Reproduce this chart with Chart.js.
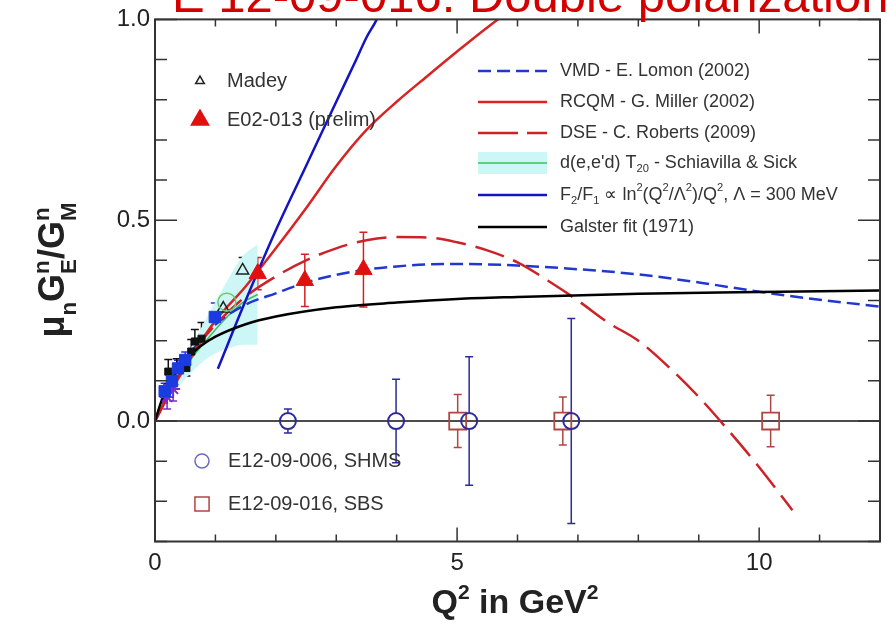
<!DOCTYPE html>
<html lang="en">
<head>
<meta charset="UTF-8" />
<title>E 12-09-016: Double polarization</title>
<script src="https://cdn.jsdelivr.net/npm/chart.js"></script>
<style>
  html, body { margin: 0; padding: 0; background: #fff; }
</style>
</head>
<body>
<canvas id="ratioChart" width="887" height="627"></canvas>
<script>
// ---- theory curves: Q^2 (GeV^2) and mu_n G_E^n / G_M^n ----
const galsterQ2 = [0, 0.1, 0.2, 0.3, 0.5, 0.75, 1, 1.5, 2, 3, 4, 5, 6, 8, 10, 12];
const galsterRatio = [0, 0.047, 0.083, 0.110, 0.151, 0.186, 0.210, 0.241, 0.260, 0.283, 0.295, 0.304, 0.309, 0.317, 0.321, 0.325];

const vmdQ2 = [0, 0.25, 0.5, 0.75, 1, 1.5, 2, 2.5, 3, 3.5, 4, 4.5, 5, 5.5, 6, 7, 8, 9, 10, 11, 12];
const vmdRatio = [0, 0.08, 0.15, 0.2, 0.24, 0.29, 0.318, 0.345, 0.364, 0.377, 0.385, 0.39, 0.391, 0.39, 0.387, 0.378, 0.365, 0.345, 0.322, 0.302, 0.285];

const rcqmQ2 = [0, 0.25, 0.5, 0.75, 1, 1.5, 2, 2.5, 3, 3.5, 4, 4.5, 5, 5.5, 6, 6.5];
const rcqmRatio = [0, 0.07, 0.135, 0.195, 0.25, 0.335, 0.43, 0.53, 0.635, 0.725, 0.795, 0.858, 0.92, 0.98, 1.035, 1.085];

const dseQ2 = [0, 0.25, 0.5, 0.75, 1, 1.5, 2, 2.5, 3, 3.5, 4, 4.5, 5, 5.5, 6, 6.5, 7, 7.5, 8, 8.5, 9, 9.5, 10, 10.55];
const dseRatio = [0, 0.075, 0.14, 0.195, 0.24, 0.31, 0.36, 0.4, 0.43, 0.45, 0.458, 0.457, 0.445, 0.425, 0.395, 0.35, 0.30, 0.245, 0.2, 0.135, 0.06, -0.025, -0.115, -0.222];

const pqcdQ2 = [1.04, 1.5, 2, 2.5, 3, 3.3, 3.5, 3.67, 3.75];
const pqcdRatio = [0.13, 0.3, 0.475, 0.635, 0.795, 0.89, 0.955, 1.0, 1.03];

const t20Q2 = [0, 0.3, 0.6, 0.9, 1.2, 1.45, 1.7];
const t20Low = [0, 0.07, 0.12, 0.16, 0.18, 0.19, 0.19];
const t20High = [0, 0.1, 0.185, 0.27, 0.35, 0.41, 0.44];
const t20Mid = [0, 0.085, 0.155, 0.21, 0.26, 0.295, 0.315];

// ---- measured points ----
const madeyQ2 = [1.13, 1.45];
const madeyRatio = [0.28, 0.375];
const madeyErr = [0.03, 0.032];

const e02Q2 = [1.7, 2.48, 3.45];
const e02Ratio = [0.367, 0.35, 0.377];
const e02Err = [0.04, 0.065, 0.093];

const lowBlueQ2 = [0.16, 0.28, 0.38, 0.5, 0.99];
const lowBlueRatio = [0.074, 0.099, 0.131, 0.152, 0.259];
const lowBlueErr = [0.02, 0.02, 0.02, 0.02, 0.035];

const lowBlackQ2 = [0.22, 0.36, 0.52, 0.6, 0.66, 0.77];
const lowBlackRatio = [0.123, 0.13, 0.132, 0.173, 0.198, 0.205];
const lowBlackErr = [0.03, 0.025, 0.02, 0.03, 0.03, 0.04];

const lowStarQ2 = [0.2, 0.3];
const lowStarRatio = [0.06, 0.08];
const lowStarErr = [0.03, 0.03];

const ringQ2 = [1.19];
const ringRatio = [0.296];

// ---- projected points (plotted at zero) ----
const shmsQ2 = [2.2, 3.99, 5.2, 6.89];
const shmsRatio = [0, 0, 0, 0];
const shmsErr = [0.03, 0.104, 0.16, 0.255];

const sbsQ2 = [5.01, 6.75, 10.19];
const sbsRatio = [0, 0, 0];
const sbsErr = [0.066, 0.06, 0.064];

// ---- axes ----
const xMin = 0, xMax = 12, xStep = 1;
const yMin = -0.3, yMax = 1.0, yStep = 0.1;
const xLabelValues = [0, 5, 10];
const xLabelTexts = ["0", "5", "10"];
const yLabelValues = [0, 0.5, 1.0];
const yLabelTexts = ["0.0", "0.5", "1.0"];

const titleText = "E 12-09-016: Double polarization";
const xTitle = "Q^{2} in GeV^{2}";
const yTitle = "μ_{n}G_{E}^{n}/G_{M}^{n}";

const FONT = '"Liberation Sans", Arial, sans-serif';

function pts(xs, ys) {
  return xs.map((x, i) => ({ x: x, y: ys[i] }));
}

function findLabel(values, texts, v) {
  for (let i = 0; i < values.length; i++) {
    if (Math.abs(values[i] - v) < 1e-6) return texts[i];
  }
  return "";
}

// split "a_{b}^{c}" into plain / sub / sup pieces
function parseRich(str) {
  const out = [];
  const re = /([_^])\{([^}]*)\}/g;
  let last = 0, m;
  while ((m = re.exec(str)) !== null) {
    if (m.index > last) out.push({ text: str.slice(last, m.index), mode: "" });
    out.push({ text: m[2], mode: m[1] === "_" ? "sub" : "sup" });
    last = re.lastIndex;
  }
  if (last < str.length) out.push({ text: str.slice(last), mode: "" });
  return out;
}

function richText(ctx, str, x, y, size, weight, draw) {
  const segs = parseRich(str);
  let cx = x;
  let prev = null;
  for (const s of segs) {
    const fs = s.mode ? size * 0.62 : size;
    ctx.font = weight + " " + fs + "px " + FONT;
    const w = ctx.measureText(s.text).width;
    let sx = cx;
    const stacked = s.mode === "sup" && prev && prev.mode === "sub";
    if (stacked) sx = prev.x;
    const dy = s.mode === "sub" ? size * 0.32 : s.mode === "sup" ? -size * 0.42 : 0;
    if (draw) ctx.fillText(s.text, sx, y + dy);
    cx = stacked ? prev.x + Math.max(prev.w, w) : sx + w;
    prev = { mode: s.mode, x: sx, w: w };
  }
  return cx - x;
}

function marker(ctx, style, x, y, r, stroke, fill, lw) {
  ctx.save();
  ctx.beginPath();
  if (style === "triangle") {
    for (let k = 0; k < 3; k++) {
      const a = k * 2 * Math.PI / 3;
      const px = x + Math.sin(a) * r, py = y - Math.cos(a) * r;
      k === 0 ? ctx.moveTo(px, py) : ctx.lineTo(px, py);
    }
    ctx.closePath();
  } else if (style === "rect") {
    const h = r * Math.SQRT1_2;
    ctx.rect(x - h, y - h, 2 * h, 2 * h);
  } else {
    ctx.arc(x, y, r, 0, 2 * Math.PI);
  }
  if (fill) { ctx.fillStyle = fill; ctx.fill(); }
  ctx.lineWidth = lw;
  ctx.strokeStyle = stroke;
  ctx.stroke();
  ctx.restore();
}

// zero line and error bars underneath, frame/ticks/legends/titles on top
const decorations = {
  id: "decorations",
  beforeDatasetsDraw(chart) {
    const { ctx, chartArea: a, scales: { x, y } } = chart;
    ctx.save();
    const y0 = y.getPixelForValue(0);
    ctx.strokeStyle = "#111";
    ctx.lineWidth = 1.5;
    ctx.beginPath();
    ctx.moveTo(a.left, y0);
    ctx.lineTo(a.right, y0);
    ctx.stroke();

    chart.data.datasets.forEach((ds) => {
      if (!ds.errors) return;
      ctx.strokeStyle = ds.errorColor || ds.borderColor;
      ctx.lineWidth = 1.5;
      ds.data.forEach((p, j) => {
        const e = ds.errors[j];
        const px = x.getPixelForValue(p.x);
        const py = y.getPixelForValue(p.y);
        const top = y.getPixelForValue(p.y + e);
        const bot = y.getPixelForValue(p.y - e);
        const gap = ds.errorGap || 0;
        const cap = 4;
        ctx.beginPath();
        if (py - gap > top) { ctx.moveTo(px, top); ctx.lineTo(px, py - gap); }
        if (py + gap < bot) { ctx.moveTo(px, py + gap); ctx.lineTo(px, bot); }
        ctx.moveTo(px - cap, top); ctx.lineTo(px + cap, top);
        ctx.moveTo(px - cap, bot); ctx.lineTo(px + cap, bot);
        ctx.stroke();
      });
    });
    ctx.restore();
  },
  afterDraw(chart) {
    const { ctx, chartArea: a, scales: { x, y } } = chart;
    ctx.save();

    // frame
    ctx.strokeStyle = "#333";
    ctx.lineWidth = 2;
    ctx.strokeRect(a.left, a.top, a.right - a.left, a.bottom - a.top);

    // inward ticks on all four sides
    ctx.lineWidth = 1.5;
    ctx.beginPath();
    y.ticks.forEach((t) => {
      const py = y.getPixelForValue(t.value);
      const len = findLabel(yLabelValues, yLabelTexts, t.value) ? 22 : 12;
      ctx.moveTo(a.left, py); ctx.lineTo(a.left + len, py);
      ctx.moveTo(a.right, py); ctx.lineTo(a.right - len, py);
    });
    x.ticks.forEach((t) => {
      const px = x.getPixelForValue(t.value);
      const len = findLabel(xLabelValues, xLabelTexts, t.value) ? 14 : 7;
      ctx.moveTo(px, a.bottom); ctx.lineTo(px, a.bottom - len);
      ctx.moveTo(px, a.top); ctx.lineTo(px, a.top + len);
    });
    ctx.stroke();

    // legends
    const boxes = {
      theory: { x: 478, len: 69, textX: 560, rows: [71, 102, 133, 163, 195, 227], size: 18 },
      data: { x: 200, textX: 227, rows: [81, 120], size: 20 },
      proj: { x: 202, textX: 228, rows: [461, 504], size: 20 }
    };
    ctx.textBaseline = "middle";
    ctx.textAlign = "left";
    chart.data.datasets.forEach((ds) => {
      if (!ds.legendGroup) return;
      const b = boxes[ds.legendGroup];
      const ly = b.rows[ds.legendRow];
      if (ds.legendGroup === "theory") {
        if (ds.fill) {
          ctx.fillStyle = ds.backgroundColor;
          ctx.fillRect(b.x, ly - 11, b.len, 22);
          ctx.strokeStyle = "#3cbf5a";
          ctx.lineWidth = 1.5;
          ctx.setLineDash([]);
        } else {
          ctx.strokeStyle = ds.borderColor;
          ctx.lineWidth = ds.borderWidth;
          ctx.setLineDash(ds.legendDash || ds.borderDash || []);
        }
        ctx.beginPath();
        ctx.moveTo(b.x, ly);
        ctx.lineTo(b.x + b.len, ly);
        ctx.stroke();
        ctx.setLineDash([]);
      } else {
        marker(ctx, ds.pointStyle, b.x, ly, ds.legendRadius, ds.legendColor || ds.borderColor,
          ds.legendFill || null, 1.5);
      }
      ctx.fillStyle = "#333";
      richText(ctx, ds.label, b.textX, ly, b.size, "normal", true);
    });

    // axis titles
    ctx.fillStyle = "#222";
    ctx.textBaseline = "alphabetic";
    const xw = richText(ctx, xTitle, 0, 0, 34, "bold", false);
    richText(ctx, xTitle, 515 - xw / 2, 613, 34, "bold", true);

    ctx.save();
    ctx.translate(51, 270);
    ctx.rotate(-Math.PI / 2);
    const yw = richText(ctx, yTitle, 0, 0, 36, "bold", false);
    richText(ctx, yTitle, -yw / 2, 13, 36, "bold", true);
    ctx.restore();

    // title cut by the top edge
    ctx.fillStyle = "#d40000";
    ctx.font = "49px " + FONT;
    ctx.fillText(titleText, 172, 12);
    ctx.restore();
  }
};

const datasets = [
  // low-Q2 world data
  { label: "", data: pts(lowBlueQ2, lowBlueRatio), errors: lowBlueErr, showLine: false,
    pointStyle: "rect", pointRadius: 8, borderColor: "#1a3be0", backgroundColor: "#1a3be0", borderWidth: 1 },
  { label: "", data: pts(lowBlackQ2, lowBlackRatio), errors: lowBlackErr, showLine: false,
    pointStyle: "rect", pointRadius: 5, borderColor: "#111", backgroundColor: "#111", borderWidth: 1 },
  { label: "", data: pts(lowStarQ2, lowStarRatio), errors: lowStarErr, showLine: false,
    pointStyle: "star", pointRadius: 7, borderColor: "#7a2ad0", backgroundColor: "#7a2ad0", borderWidth: 2 },
  { label: "", data: pts(ringQ2, ringRatio), showLine: false,
    pointStyle: "circle", pointRadius: 9, borderColor: "#6cc86c", backgroundColor: "rgba(0,0,0,0)", borderWidth: 1.5 },
  { label: "Madey", data: pts(madeyQ2, madeyRatio), errors: madeyErr, errorGap: 5, showLine: false,
    pointStyle: "triangle", pointRadius: 7, borderColor: "#222", backgroundColor: "rgba(0,0,0,0)", borderWidth: 1.5,
    legendGroup: "data", legendRow: 0, legendRadius: 5 },
  { label: "E02-013 (prelim)", data: pts(e02Q2, e02Ratio), errors: e02Err, errorColor: "#d42020", showLine: false,
    pointStyle: "triangle", pointRadius: 10, borderColor: "#e01010", backgroundColor: "#e01010", borderWidth: 1,
    legendGroup: "data", legendRow: 1, legendRadius: 10, legendFill: "#e01010" },
  { label: "E12-09-006, SHMS", data: pts(shmsQ2, shmsRatio), errors: shmsErr, errorGap: 8, showLine: false,
    pointStyle: "circle", pointRadius: 8, borderColor: "#2b2b9e", backgroundColor: "rgba(0,0,0,0)", borderWidth: 2,
    legendGroup: "proj", legendRow: 0, legendRadius: 7, legendColor: "#6a6ac4" },
  { label: "E12-09-016, SBS", data: pts(sbsQ2, sbsRatio), errors: sbsErr, errorGap: 8.5, showLine: false,
    pointStyle: "rect", pointRadius: 12, borderColor: "#b04545", backgroundColor: "rgba(0,0,0,0)", borderWidth: 1.8,
    legendGroup: "proj", legendRow: 1, legendRadius: 10, legendColor: "#b04545" },

  // theory curves
  { label: "Galster fit (1971)", data: pts(galsterQ2, galsterRatio), borderColor: "#000", borderWidth: 2.5,
    legendGroup: "theory", legendRow: 5 },
  { label: "F_{2}/F_{1} ∝ ln^{2}(Q^{2}/Λ^{2})/Q^{2}, Λ = 300 MeV", data: pts(pqcdQ2, pqcdRatio),
    borderColor: "#1414c0", borderWidth: 2.5, legendGroup: "theory", legendRow: 4 },
  { label: "DSE - C. Roberts (2009)", data: pts(dseQ2, dseRatio), borderColor: "#cc2228", borderWidth: 2.5,
    borderDash: [30, 10], legendDash: [40, 9], legendGroup: "theory", legendRow: 2 },
  { label: "RCQM - G. Miller (2002)", data: pts(rcqmQ2, rcqmRatio), borderColor: "#d82424", borderWidth: 2.5,
    legendGroup: "theory", legendRow: 1 },
  { label: "VMD - E. Lomon (2002)", data: pts(vmdQ2, vmdRatio), borderColor: "#2236d0", borderWidth: 2.5,
    borderDash: [13, 6], legendGroup: "theory", legendRow: 0 },
  { label: "", data: pts(t20Q2, t20Mid), borderColor: "#3cbf5a", borderWidth: 1.5 },

  // T20 band (drawn at the back)
  { label: "", data: pts(t20Q2, t20Low), borderWidth: 0, borderColor: "rgba(0,0,0,0)" },
  { label: "d(e,e'd) T_{20} - Schiavilla & Sick", data: pts(t20Q2, t20High), borderWidth: 0,
    borderColor: "rgba(0,0,0,0)", backgroundColor: "#cdf6f6", fill: "-1",
    legendGroup: "theory", legendRow: 3 }
];

datasets.forEach((ds) => {
  ds.type = "line";
  ds.cubicInterpolationMode = "monotone";
  if (ds.showLine === false) {
    ds.pointHoverRadius = ds.pointRadius;
  } else {
    ds.pointRadius = 0;
    ds.pointHoverRadius = 0;
  }
});

new Chart(document.getElementById("ratioChart"), {
  type: "line",
  data: { datasets: datasets },
  options: {
    responsive: false,
    animation: false,
    events: [],
    layout: { autoPadding: false, padding: { left: 0, top: 15, right: 7, bottom: 0 } },
    plugins: { legend: { display: false }, tooltip: { enabled: false } },
    scales: {
      x: {
        type: "linear",
        min: xMin,
        max: xMax,
        grid: { display: false, drawTicks: false },
        border: { display: false },
        ticks: {
          stepSize: xStep,
          autoSkip: false,
          maxRotation: 0,
          padding: 7,
          color: "#222",
          font: { family: FONT, size: 24 },
          callback: (v) => findLabel(xLabelValues, xLabelTexts, v)
        },
        afterFit(scale) { scale.height = 627 - 541.5; }
      },
      y: {
        type: "linear",
        min: yMin,
        max: yMax,
        grid: { display: false, drawTicks: false },
        border: { display: false },
        ticks: {
          stepSize: yStep,
          autoSkip: false,
          padding: 5,
          color: "#222",
          font: { family: FONT, size: 24 },
          callback: (v) => findLabel(yLabelValues, yLabelTexts, v)
        },
        afterFit(scale) { scale.width = 155; }
      }
    }
  },
  plugins: [decorations]
});
</script>
</body>
</html>
